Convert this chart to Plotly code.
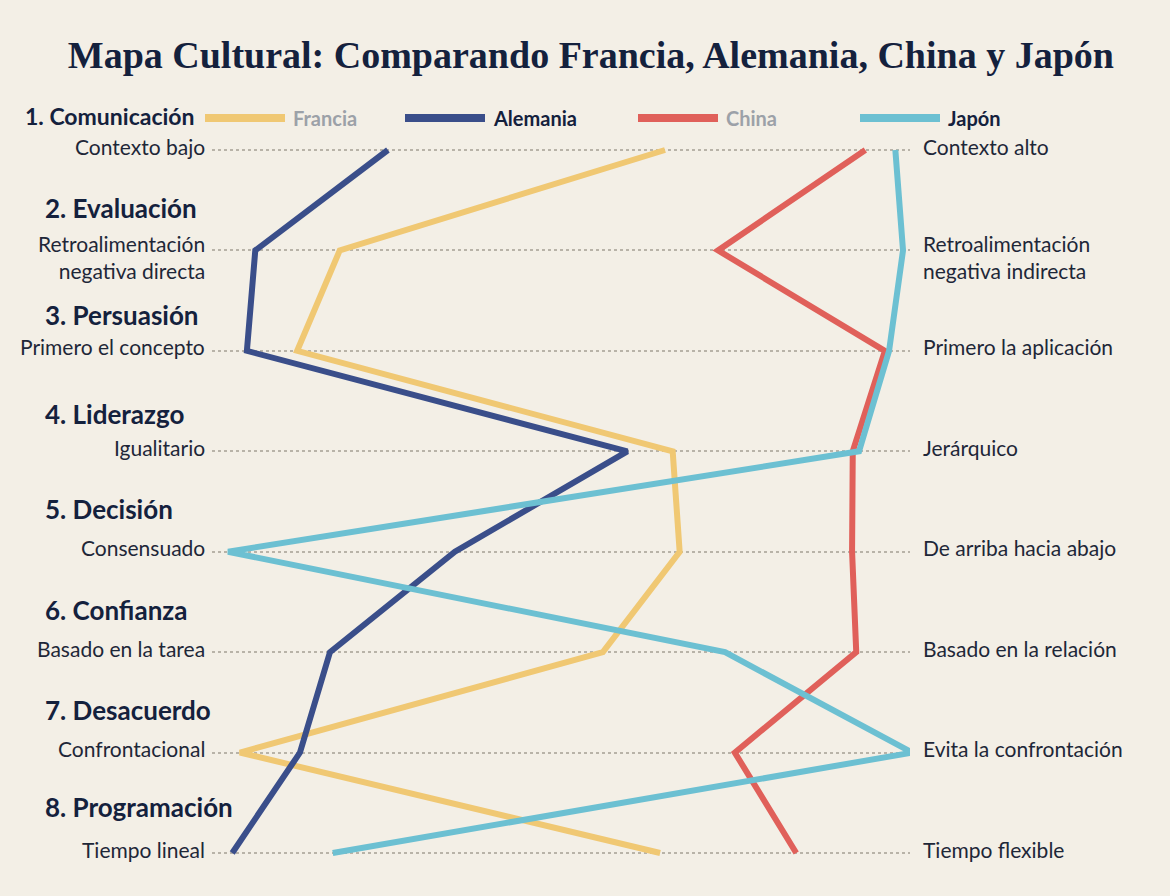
import plotly.graph_objects as go

# ---------------- data ----------------
dimensions = ["1. Comunicación", "2. Evaluación", "3. Persuasión", "4. Liderazgo",
              "5. Decisión", "6. Confianza", "7. Desacuerdo", "8. Programación"]
left_labels = ["Contexto bajo", "Retroalimentación<br>negativa directa", "Primero el concepto",
               "Igualitario", "Consensuado", "Basado en la tarea", "Confrontacional", "Tiempo lineal"]
right_labels = ["Contexto alto", "Retroalimentación<br>negativa indirecta", "Primero la aplicación",
                "Jerárquico", "De arriba hacia abajo", "Basado en la relación",
                "Evita la confrontación", "Tiempo flexible"]
countries = ["Francia", "Alemania", "China", "Japón"]
francia = [64.9, 18.3, 12.2, 66.0, 67.0, 56.0, 4.0, 64.2]
alemania = [25.2, 6.2, 5.0, 59.5, 34.8, 16.9, 12.6, 2.9]
china = [93.6, 72.5, 96.4, 91.8, 91.7, 92.3, 74.9, 83.7]
japon = [97.9, 99.0, 97.0, 92.7, 2.3, 73.5, 100.3, 17.3]

# ---------------- style ----------------
BG = "#F3EFE6"
DARK = "#14213D"
TEXT = "#1E2738"
GREY_TXT = "#9CA1A8"
colors = ["#F0C873", "#3A4E8A", "#E0605A", "#6CC0D2"]
legend_text_colors = [GREY_TXT, DARK, GREY_TXT, DARK]
header_offsets = [-0.34, -0.42, -0.36, -0.37, -0.43, -0.42, -0.42, -0.46]
series = [francia, alemania, china, japon]
rows = list(range(len(dimensions)))

fig = go.Figure()
for name, vals, col in zip(countries, series, colors):
    fig.add_trace(go.Scatter(
        x=vals, y=rows, mode="lines", name=name,
        line=dict(color=col, width=6), cliponaxis=False, showlegend=False,
        hovertemplate=name + ": %{x}<extra></extra>"))

W, H = 1170, 896
L, R = 212, 910          # plot area pixels
T, B = 100, 880
px_per_row = (853 - 150) / 7.0
y_top = -(150 - T) / px_per_row
y_bot = 7 + (B - 853) / px_per_row

annotations = []
for i, (dim, ll, rl) in enumerate(zip(dimensions, left_labels, right_labels)):
    two = "<br>" in ll
    annotations.append(dict(
        x=0, xref="paper", y=i, yref="y", text=ll, showarrow=False,
        xanchor="right", yanchor="top" if two else "middle",
        xshift=-5, yshift=21 if two else 4, align="right",
        font=dict(family="Lato", size=21, color=TEXT)))
    annotations.append(dict(
        x=1, xref="paper", y=i, yref="y", text=rl, showarrow=False,
        xanchor="left", yanchor="top" if two else "middle",
        xshift=11, yshift=21 if two else 4, align="left",
        font=dict(family="Lato", size=21, color=TEXT)))
    if i == 0:
        hx, hs = -(L - 23), 23
    else:
        hx, hs = -(L - 43), 26
    annotations.append(dict(
        x=0, xref="paper", y=i + header_offsets[i], yref="y", text="<b>" + dim + "</b>",
        showarrow=False, xanchor="left", yanchor="middle", xshift=hx,
        font=dict(family="Lato", size=hs, color=DARK)))

# manual legend (long line samples)
shapes = []
leg_y_px = 118
leg_y = (B - leg_y_px) / (B - T)
leg_starts = [205, 405, 638, 860]
for name, col, tcol, sx in zip(countries, colors, legend_text_colors, leg_starts):
    shapes.append(dict(type="line", xref="paper", yref="paper",
                       x0=(sx - L) / (R - L), x1=(sx + 80 - L) / (R - L),
                       y0=leg_y, y1=leg_y, line=dict(color=col, width=8)))
    annotations.append(dict(
        x=(sx + 86 - L) / (R - L), xref="paper", y=leg_y, yref="paper",
        text="<b>" + name + "</b>", showarrow=False, xanchor="left", yanchor="middle",
        font=dict(family="Lato", size=20, color=tcol)))

fig.update_layout(
    width=W, height=H,
    paper_bgcolor=BG, plot_bgcolor=BG,
    margin=dict(l=L, r=W - R, t=T, b=H - B),
    title=dict(text="<b>Mapa Cultural: Comparando Francia, Alemania, China y Japón</b>",
               x=0.505, xanchor="center", y=1 - 55 / H, yanchor="middle",
               font=dict(family="Liberation Serif", size=38, color=DARK)),
    xaxis=dict(range=[0, 100], visible=False, fixedrange=True),
    yaxis=dict(range=[y_bot, y_top], tickvals=rows, showticklabels=False,
               showgrid=True, gridcolor="#B8B3A8", gridwidth=2, griddash="dot",
               zeroline=False, showline=False, fixedrange=True),
    annotations=annotations, shapes=shapes,
    showlegend=False,
)

fig.write_html("out.html", config={"displayModeBar": False},
               post_script="document.body.style.margin='0';document.body.style.background='" + BG + "';")
